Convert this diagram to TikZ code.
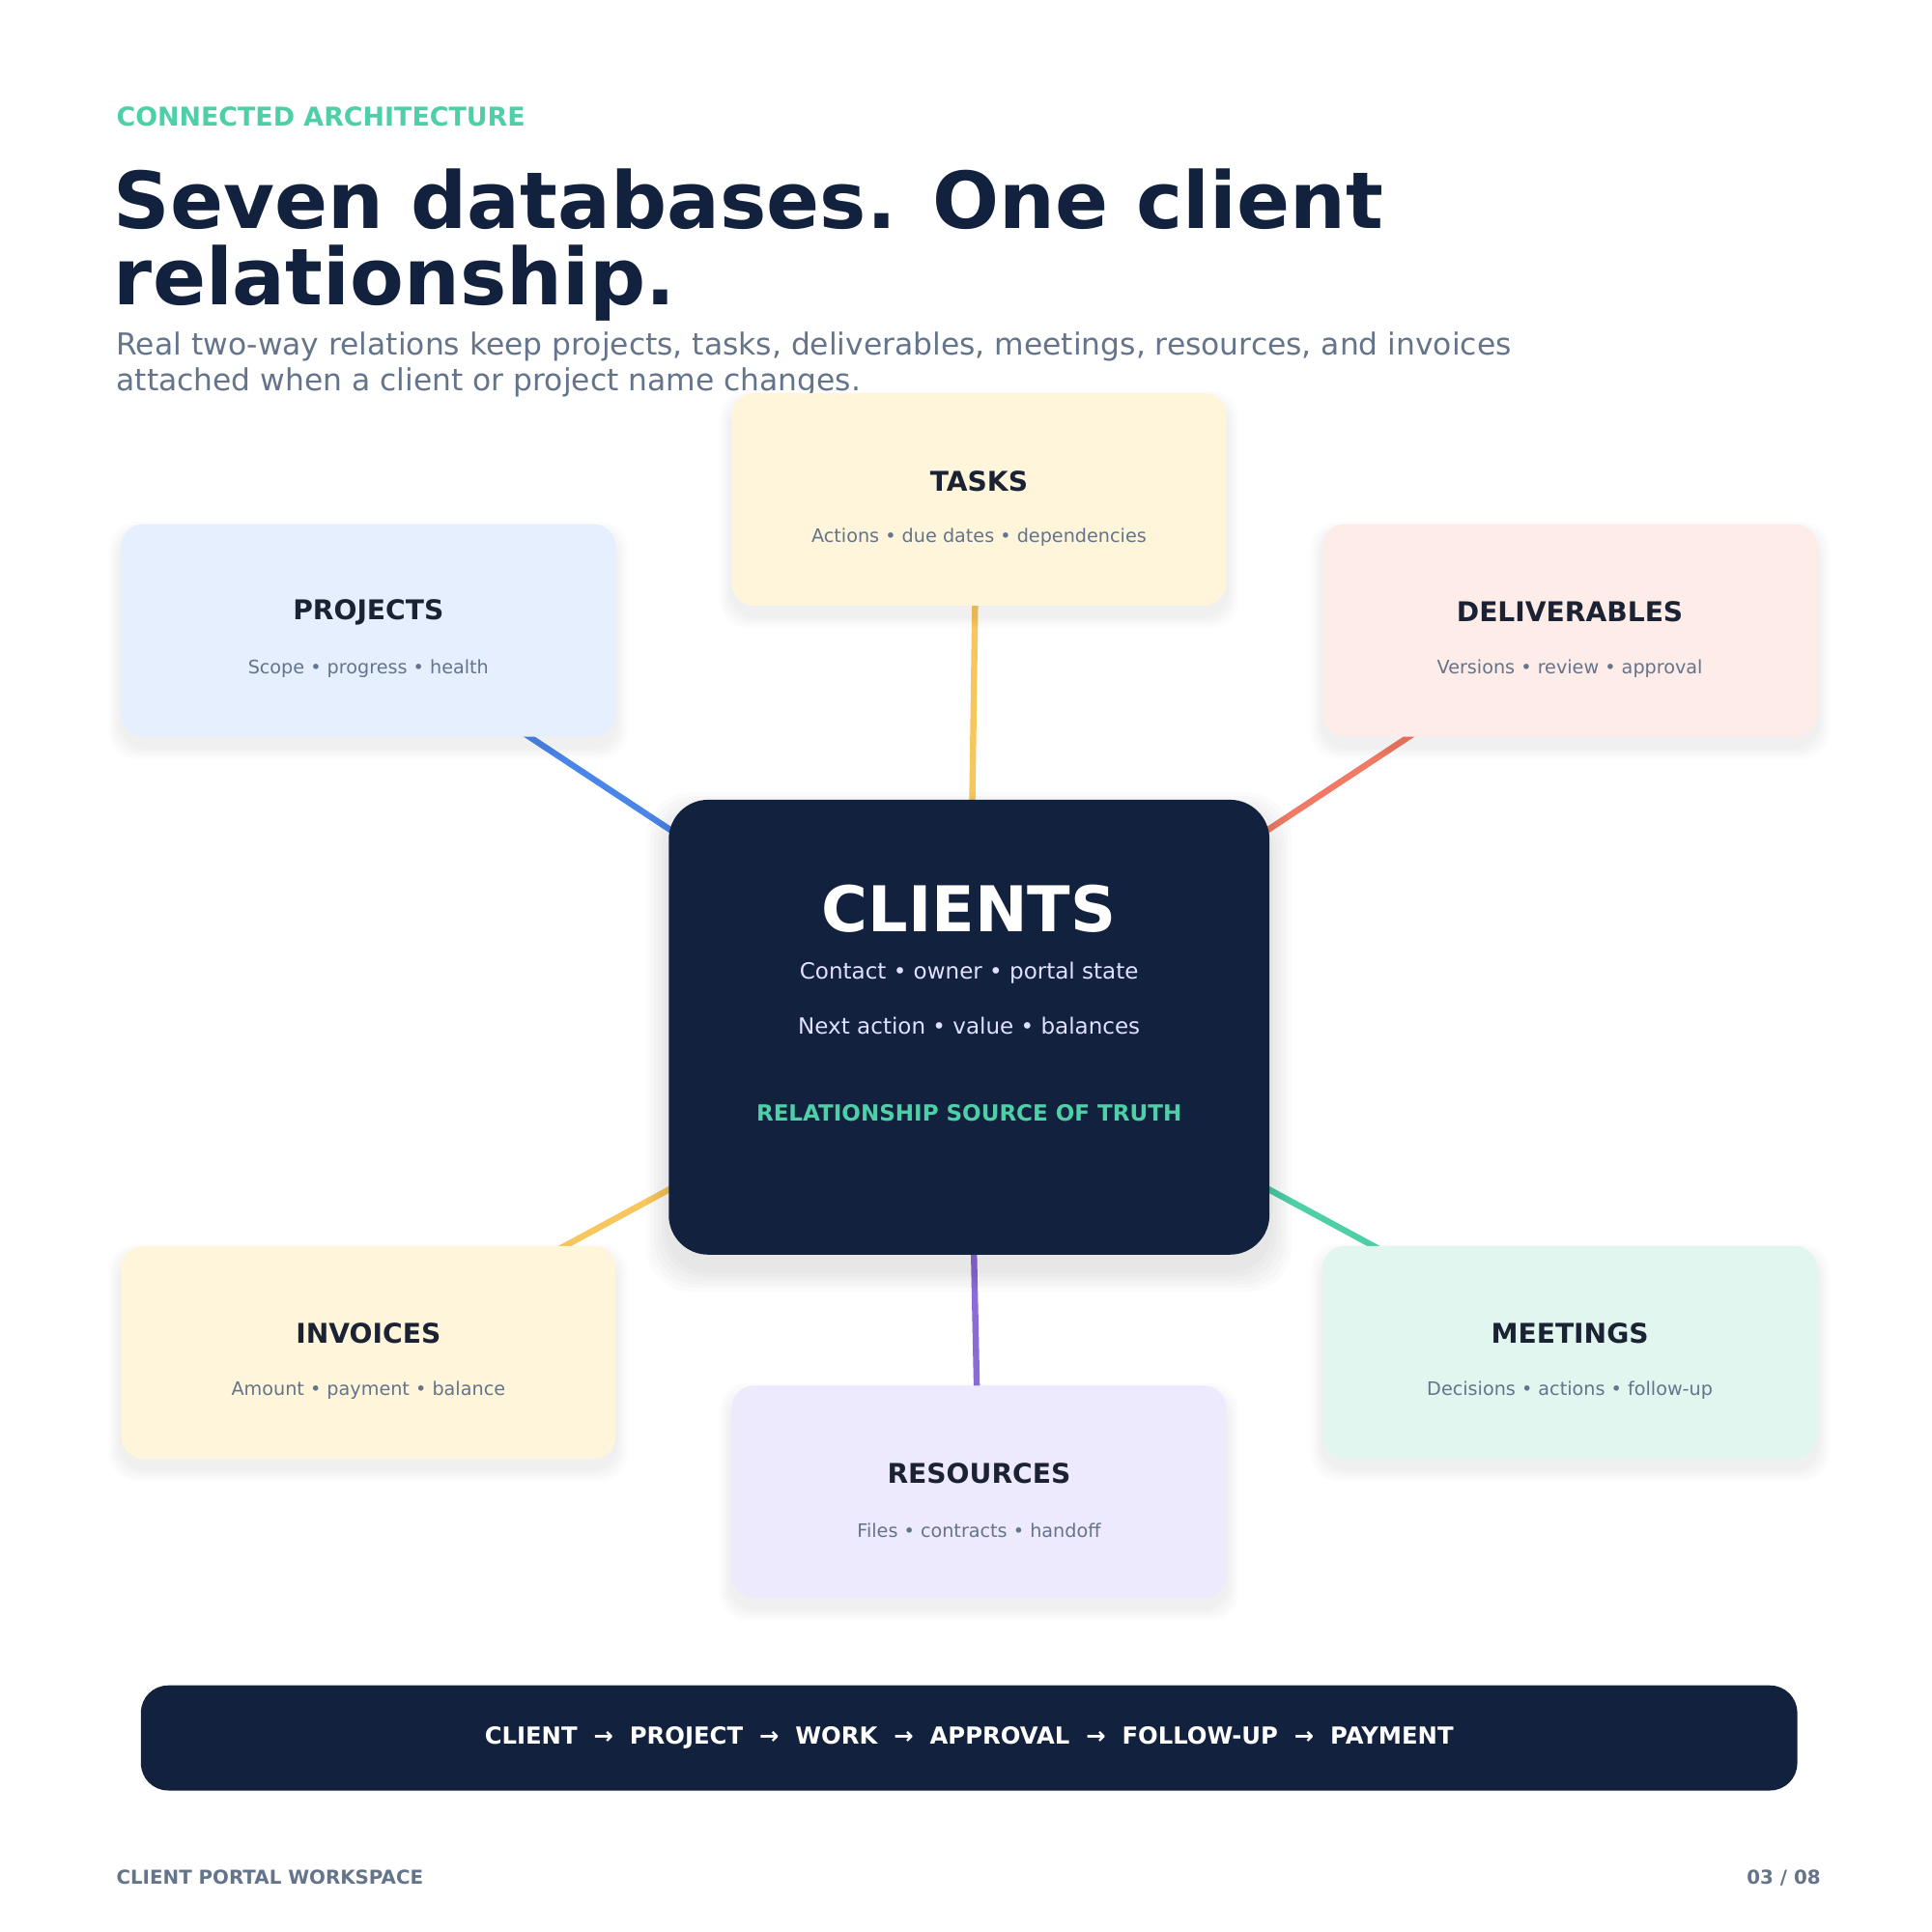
\documentclass[tikz,border=0pt]{standalone}
\usepackage{fontspec}
\setmainfont{DejaVu Sans}
\definecolor{navy}{HTML}{12213D}
\definecolor{teal}{HTML}{4FCFA8}
\definecolor{greyt}{HTML}{64748B}
\definecolor{dark}{HTML}{1A2233}
\definecolor{cyel}{HTML}{FEF5DB}
\definecolor{cblue}{HTML}{E6EFFD}
\definecolor{ccor}{HTML}{FDECE8}
\definecolor{cgrn}{HTML}{E1F6EF}
\definecolor{cpur}{HTML}{EEEAFD}
\definecolor{lblue}{HTML}{4A86E8}
\definecolor{lyel}{HTML}{F7C65C}
\definecolor{lcor}{HTML}{F07A65}
\definecolor{lgrn}{HTML}{4FCFA8}
\definecolor{lpur}{HTML}{8A6BD8}
\begin{document}
\begin{tikzpicture}[x=1pt,y=-1pt,
  box/.style={rounded corners=18pt,minimum width=400pt,minimum height=172pt,draw=none,inner sep=0},
  btitle/.style={font=\bfseries\fontsize{22}{26}\selectfont,text=dark},
  bsub/.style={font=\fontsize{15}{18}\selectfont,text=greyt},
  conn/.style={line width=5pt}]
\useasboundingbox (0,0) rectangle (1563,1563);
\fill[white] (0,0) rectangle (1563,1563);
\node[anchor=base west,inner sep=0,font=\bfseries\fontsize{21}{25}\selectfont,text=teal] (kick) at (94,102) {CONNECTED ARCHITECTURE};
\node[anchor=north west,font=\bfseries\fontsize{63.5}{62}\selectfont,text=navy,align=left,inner sep=0] (title) at (92,136) {Seven databases. One client\\relationship.};
\node[anchor=north west,font=\fontsize{24.5}{29}\selectfont,text=greyt,align=left,inner sep=0] (sub) at (94,268) {Real two-way relations keep projects, tasks, deliverables, meetings, resources, and invoices\\attached when a client or project name changes.};
% connectors
\coordinate (cc) at (784,831);
\draw[conn,lblue] (298,510) -- (cc);
\draw[conn,lyel] (790,404) -- (cc);
\draw[conn,lcor] (1270,510) -- (cc);
\draw[conn,lyel] (298,1094) -- (cc);
\draw[conn,lgrn] (1270,1094) -- (cc);
\draw[conn,lpur] (792,1207) -- (cc);
% boxes
\foreach \n/\c/\x/\y in {tasks/cyel/792/404, proj/cblue/298/510, deliv/ccor/1270/510, inv/cyel/298/1094, meet/cgrn/1270/1094, res/cpur/792/1207}{
  \foreach \k in {1,...,5}{
    \fill[black,opacity=0.012,rounded corners=22pt] (\x-200-\k*2,\y-86+8-\k*2) rectangle (\x+200+\k*2,\y+86+8+\k*2);
  }
  \node[box,fill=\c] (\n) at (\x,\y) {};
}
\foreach \n/\t/\s in {tasks/TASKS/Actions • due dates • dependencies, proj/PROJECTS/Scope • progress • health, deliv/DELIVERABLES/Versions • review • approval, inv/INVOICES/Amount • payment • balance, meet/MEETINGS/Decisions • actions • follow-up, res/RESOURCES/Files • contracts • handoff}{
  \node[btitle] (\n t) at ([yshift=15pt]\n.center) {\t};
  \node[bsub] (\n s) at ([yshift=-31pt]\n.center) {\s};
}
\foreach \k in {1,...,6}{
  \fill[black,opacity=0.015,rounded corners=36pt] (541-\k*3,647+12-\k*3) rectangle (1027+\k*3,1015+12+\k*3);
}
\node[rounded corners=32pt,fill=navy,minimum width=486pt,minimum height=368pt,inner sep=0] (cli) at (cc) {};
\node[font=\bfseries\fontsize{51}{60}\selectfont,text=white] (clit) at (784,735) {CLIENTS};
\node[font=\fontsize{18}{22}\selectfont,text=white!88!blue] (cl1) at (784,787) {Contact • owner • portal state};
\node[font=\fontsize{18}{22}\selectfont,text=white!88!blue] (cl2) at (784,830) {Next action • value • balances};
\node[font=\bfseries\fontsize{18}{22}\selectfont,text=teal] (cl3) at (784,900) {RELATIONSHIP SOURCE OF TRUTH};
% bottom bar
\node[rounded corners=22pt,fill=navy,minimum width=1340pt,minimum height=85pt,inner sep=0] (bar) at (784,1406) {};
\node[font=\bfseries\fontsize{19}{23}\selectfont,text=white] (bart) at (bar.center) {CLIENT \ →\ \ PROJECT \ →\ \ WORK \ →\ \ APPROVAL \ →\ \ FOLLOW-UP \ →\ \ PAYMENT};
\node[anchor=base west,inner sep=0,font=\bfseries\fontsize{15.5}{19}\selectfont,text=greyt] (fl) at (94,1524) {CLIENT PORTAL WORKSPACE};
\node[anchor=base east,inner sep=0,font=\bfseries\fontsize{15.5}{19}\selectfont,text=greyt] (fr) at (1473,1524) {03 / 08};
\end{tikzpicture}
\end{document}
